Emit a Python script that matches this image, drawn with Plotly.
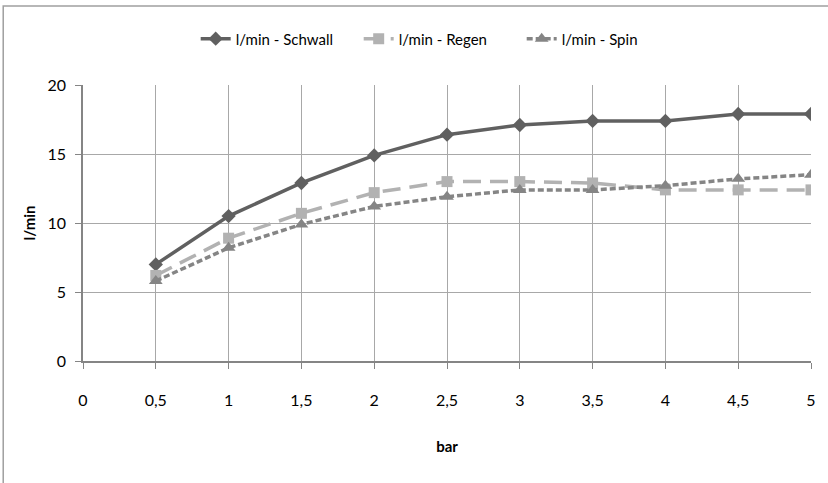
import plotly.graph_objects as go

# druck in bar
druck = [0.5, 1, 1.5, 2, 2.5, 3, 3.5, 4, 4.5, 5]
schwall = [7.0, 10.5, 12.9, 14.9, 16.4, 17.1, 17.4, 17.4, 17.9, 17.9]
regen = [6.2, 8.9, 10.7, 12.2, 13.0, 13.0, 12.9, 12.4, 12.4, 12.4]
spin = [5.8, 8.2, 9.9, 11.2, 11.9, 12.4, 12.4, 12.7, 13.2, 13.5]

x_ticks = [0, 0.5, 1, 1.5, 2, 2.5, 3, 3.5, 4, 4.5, 5]
x_labels = ["0", "0,5", "1", "1,5", "2", "2,5", "3", "3,5", "4", "4,5", "5"]
y_ticks = [0, 5, 10, 15, 20]

schrift = "Lato, Noto Sans, sans-serif"

fig = go.Figure()
fig.add_trace(go.Scatter(x=druck, y=schwall, mode="lines+markers", name="l/min - Schwall",
                         line=dict(color="#606060", width=3.5),
                         marker=dict(symbol="diamond", size=11, color="#606060")))
fig.add_trace(go.Scatter(x=druck, y=regen, mode="lines+markers", name="l/min - Regen",
                         line=dict(color="#b2b2b2", width=3.5, dash="18px,9px"),
                         marker=dict(symbol="square", size=11, color="#b2b2b2")))
fig.add_trace(go.Scatter(x=druck, y=spin, mode="lines+markers", name="l/min - Spin",
                         line=dict(color="#858585", width=3.5, dash="6px,3px"),
                         marker=dict(symbol="triangle-up", size=12, color="#858585")))

achse = dict(showline=True, linecolor="#858585", linewidth=1.5,
             showgrid=True, gridcolor="#a8a8a8", gridwidth=1,
             ticks="outside", ticklen=6, tickcolor="#858585",
             zeroline=False, tickfont=dict(family=schrift, size=16, color="#000"))

# plotbereich: x 83..813, y 85..361
fig.update_layout(
    width=828, height=483,
    margin=dict(l=83, r=15, t=85, b=122),
    plot_bgcolor="white", paper_bgcolor="white",
    font=dict(family=schrift, color="#000"),
    showlegend=True,
    legend=dict(orientation="h", x=(196 - 83) / 730, xanchor="left", y=1.167, yanchor="middle",
                entrywidth=118, entrywidthmode="pixels",
                font=dict(family=schrift, size=15)),
    xaxis=dict(achse, range=[0, 5], tickvals=x_ticks, ticktext=x_labels, ticklabelstandoff=18,
               title=dict(text="<b>bar</b>", font=dict(family=schrift, size=15), standoff=34)),
    yaxis=dict(achse, range=[0, 20], tickvals=y_ticks, ticklabelstandoff=6,
               title=dict(text="<b>l/min</b>", font=dict(family=schrift, size=15), standoff=8)),
    shapes=[dict(type="rect", xref="paper", yref="paper",
                 x0=-80 / 730, x1=1 + 20 / 730, y0=-126 / 276, y1=1 + 79 / 276,
                 line=dict(color="#a0a0a0", width=1.5))],
)

fig.write_html("out.html", config={"displayModeBar": False},
               post_script="document.body.style.margin='0';")
